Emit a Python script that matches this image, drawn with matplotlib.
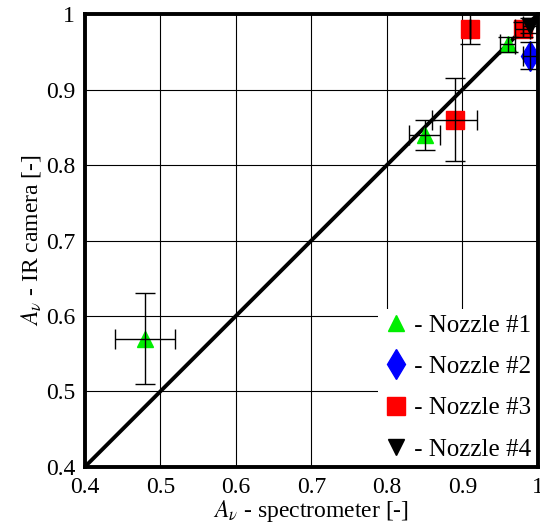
import matplotlib
matplotlib.use('Agg')
from matplotlib import pyplot as plt

plt.rcParams['font.family'] = ['Liberation Serif', 'DejaVu Serif']
plt.rcParams['mathtext.fontset'] = 'stix'

# nozzle data: spectrometer (x), IR camera (y), errors
n1_x = [0.48, 0.85, 0.96]
n1_y = [0.57, 0.84, 0.96]
n1_xerr = [0.04, 0.02, 0.01]
n1_yerr = [0.06, 0.02, 0.01]

n2_x = [0.99]
n2_y = [0.945]
n2_xerr = [0.01]
n2_yerr = [0.018]

n3_x = [0.89, 0.91, 0.98]
n3_y = [0.86, 0.98, 0.98]
n3_xerr = [0.03, 0.0, 0.01]
n3_yerr = [0.055, 0.02, 0.01]

n4_x = [0.99]
n4_y = [0.985]
n4_xerr = [0.01]
n4_yerr = [0.01]

ticks = [0.4, 0.5, 0.6, 0.7, 0.8, 0.9, 1.0]
tick_labels = ['0.4', '0.5', '0.6', '0.7', '0.8', '0.9', '1']

fig = plt.figure(figsize=(5.4, 5.27), dpi=100)
ax = fig.add_axes([0.157, 0.114, 0.839, 0.859])

ax.plot([0.4, 1.0], [0.4, 1.0], color='black', lw=2.8, zorder=3)

ax.plot(n1_x, n1_y, '^', color='#00ee00', ms=11, ls='none', label=' - Nozzle #1', zorder=4)
ax.plot(n2_x, n2_y, 'd', color='blue', ms=15, ls='none', label=' - Nozzle #2', zorder=4)
ax.plot(n3_x, n3_y, 's', color='red', ms=13, ls='none', label=' - Nozzle #3', zorder=4)
ax.plot(n4_x, n4_y, 'v', color='black', ms=12, ls='none', label=' - Nozzle #4', zorder=4)

for x, y, xe, ye in [(n1_x, n1_y, n1_xerr, n1_yerr), (n2_x, n2_y, n2_xerr, n2_yerr),
                     (n3_x, n3_y, n3_xerr, n3_yerr), (n4_x, n4_y, n4_xerr, n4_yerr)]:
    ax.errorbar(x, y, xerr=xe, yerr=ye, fmt='none', ecolor='black', elinewidth=1,
                capsize=7, capthick=1, zorder=5)

ax.set_xlim(0.4, 1.0)
ax.set_ylim(0.4, 1.0)
ax.set_xticks(ticks)
ax.set_xticklabels(tick_labels)
ax.set_yticks(ticks)
ax.set_yticklabels(tick_labels)
ax.tick_params(direction='in', length=0, labelsize=17, pad=7)
ax.grid(True, color='black', lw=0.8)
for s in ax.spines.values():
    s.set_linewidth(2.8)
    s.set_zorder(6)

ax.set_xlabel(r'$A_\nu$ - spectrometer [-]', fontsize=17, labelpad=0)
ax.set_ylabel(r'$A_\nu$ - IR camera [-]', fontsize=17, labelpad=2)

leg = ax.legend(loc='lower right', frameon=True, fontsize=18, handletextpad=0.0,
                handlelength=1.0, labelspacing=0.75, borderaxespad=0.05, borderpad=0.2,
                fancybox=False, edgecolor='none', facecolor='white', framealpha=1)

plt.savefig('out.png')
